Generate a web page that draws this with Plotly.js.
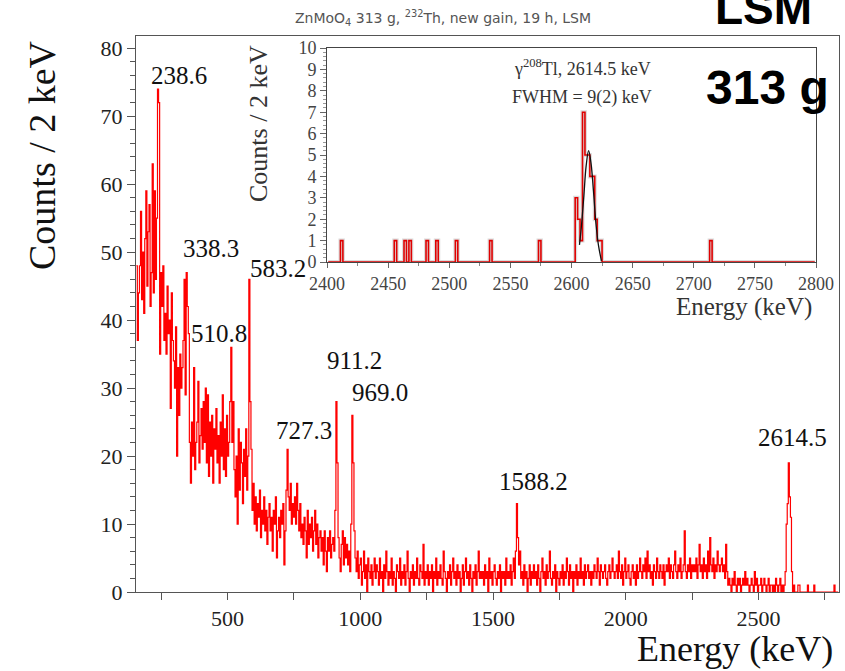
<!DOCTYPE html>
<html><head><meta charset="utf-8">
<script src="https://cdn.plot.ly/plotly-3.0.1.min.js"></script>
<style>html,body{margin:0;padding:0;background:#fff}</style>
</head><body>
<div id="chart" style="width:845px;height:671px"></div>
<script>
// ---- main spectrum: counts per 2 keV, read in 4 keV steps starting at 156 keV ----
const binStart = 156;
const binWidth = 4;
const counts = [
 48,37,44,48,56,43,50,41,52,59,45,53,57,42,47,63,44,59,46,55,74,72,35,47,42,
 48,37,41,35,45,38,40,27,44,37,34,30,39,20,33,26,35,30,33,37,46,29,47,42,38,
 22,16,25,20,33,18,22,25,31,19,23,27,21,28,22,30,19,29,17,25,20,26,16,24,21,
 27,19,23,16,25,20,29,18,24,17,26,20,22,28,36,22,28,18,14,20,10,24,15,22,19,
 13,21,17,24,15,20,46,28,21,12,16,10,14,9,13,11,15,8,12,10,14,9,12,7,11,
 13,9,11,6,12,10,14,5,9,11,8,12,10,13,4,9,15,21,14,12,16,10,13,11,14,
 10,16,12,9,13,8,10,7,11,9,5,12,7,10,8,11,6,9,12,7,10,5,8,9,6,
 8,4,9,6,3,8,6,9,5,7,8,6,12,28,19,8,5,3,7,9,4,8,5,7,4,
 6,3,10,26,19,9,5,3,6,2,4,5,1,3,6,2,4,0,5,3,2,4,1,3,5,
 2,4,3,1,5,2,3,0,4,2,6,3,1,3,2,5,1,3,2,0,4,3,2,5,1,
 3,2,4,1,3,6,2,0,3,2,4,1,3,2,5,2,1,4,3,2,7,1,3,2,4,
 1,3,2,4,0,3,2,5,1,3,2,4,2,1,6,3,2,0,3,2,4,1,3,5,2,
 3,1,4,2,3,0,2,4,1,3,5,2,3,1,4,2,0,3,2,4,1,3,6,2,3,
 2,3,1,4,2,3,0,5,2,3,1,3,4,2,1,3,2,4,0,3,2,3,1,5,2,
 3,2,4,1,3,5,2,6,13,8,4,6,2,3,1,4,2,3,0,2,4,1,3,2,4,
 2,3,1,4,2,0,3,5,2,3,1,4,2,3,6,2,1,3,2,4,0,3,2,1,3,
 2,4,1,3,2,5,3,1,4,2,3,0,3,2,4,1,3,2,5,2,3,1,4,2,3,
 4,2,3,1,3,2,4,3,2,5,3,1,4,3,2,3,4,2,1,3,4,2,3,5,3,
 2,3,4,2,6,3,2,4,1,3,5,2,3,4,2,1,3,4,2,3,1,4,2,3,5,
 3,2,4,3,5,2,6,3,4,2,3,1,4,3,2,5,3,2,4,3,2,4,1,3,4,
 3,5,2,4,3,2,4,6,3,2,4,3,5,2,3,4,9,3,2,4,3,5,2,4,3,
 4,3,5,2,4,7,3,4,2,5,3,4,2,6,3,8,4,3,5,2,4,3,6,4,3,
 4,5,3,4,2,7,3,1,2,1,0,2,1,3,1,0,2,1,2,0,1,2,1,3,1,
 2,1,0,1,2,1,0,3,1,2,0,1,1,2,0,1,2,1,0,1,2,0,1,1,0,
 1,0,2,1,0,1,2,0,1,0,1,3,10,13,19,14,11,3,0,1,0,0,0,1,1,
 0,0,0,0,0,0,0,1,0,0,0,0,0,1,0,0,0,0,0,0,0,0,0,0,0,
 0,0,0,0,0,0,0,1,0,0,0
];

// ---- peak labels ----
const peakLabels = ["238.6","338.3","583.2","510.8","911.2","969.0","727.3","1588.2","2614.5"];
const peakLabelX = [318,439,691,469,977,1075,789,1652,2627];
const peakLabelY = [76,50.6,47.6,38,34.1,29.4,23.8,16.2,22.8];

// ---- inset: 2 keV bins around 2614.5 keV ----
const insetStart = 2401;
const insetEnd = 2799;
const insetWidth = 2;
const insetBinLeft = [2411,2455,2463,2467,2481,2489,2505,2533,2573,2603,2605,2607,2609,2611,2613,2615,2617,2619,2621,2623,2713];
const insetCounts  = [1,1,1,1,1,1,1,1,1,3,2,1,7,5,5,4,4,2,1,1,1];
const fitEnergy = [2606.5,2608,2610,2612,2614,2616,2618,2620,2622,2624.5];
const fitCounts = [0.8,1.6,3.0,4.5,5.2,4.6,3.3,1.8,0.8,0.05];

// build main step arrays
const mx = counts.map((_, i) => binStart + i * binWidth);
mx.push(binStart + counts.length * binWidth);
const my = counts.concat([counts[counts.length - 1]]);

// build inset grid
const ix = [], iy = [];
for (let e = insetStart; e <= insetEnd; e += insetWidth) {
  const k = insetBinLeft.indexOf(e);
  ix.push(e); iy.push(k >= 0 ? insetCounts[k] : 0);
}

const serif = 'Liberation Serif, Times New Roman, serif';
const sans = 'Liberation Sans, Arial, sans-serif';
const L = 136, T = 36, W = 703, H = 556;
function P(px, py) { return {x: (px - L) / W, y: (T + H - py) / H, xref: 'paper', yref: 'paper'}; }

const traces = [
  {x: mx, y: my, type: 'scatter', mode: 'lines', line: {shape: 'hv', color: '#ff0000', width: 1.2}, xaxis: 'x', yaxis: 'y', hoverinfo: 'skip'},
  {x: ix, y: iy, type: 'scatter', mode: 'lines', line: {shape: 'hv', color: '#dcdcdc', width: 4}, xaxis: 'x2', yaxis: 'y2', hoverinfo: 'skip'},
  {x: ix, y: iy, type: 'scatter', mode: 'lines', line: {shape: 'hv', color: '#e00000', width: 1.6}, xaxis: 'x2', yaxis: 'y2'},
  {x: fitEnergy, y: fitCounts, type: 'scatter', mode: 'lines', line: {shape: 'spline', color: '#111', width: 1.3}, xaxis: 'x2', yaxis: 'y2'}
];

const annotations = [];
peakLabels.forEach((t, i) => annotations.push({x: peakLabelX[i], y: peakLabelY[i], xref: 'x', yref: 'y', text: t, showarrow: false, xanchor: 'center', yanchor: 'middle', font: {family: serif, size: 25, color: '#111'}}));
annotations.push(Object.assign(P(42, 155), {text: 'Counts / 2 keV', textangle: -90, showarrow: false, xanchor: 'center', yanchor: 'middle', font: {family: serif, size: 38, color: '#111'}}));
annotations.push(Object.assign(P(735, 649), {text: 'Energy (keV)', showarrow: false, xanchor: 'center', yanchor: 'middle', font: {family: serif, size: 36, color: '#111'}}));
annotations.push(Object.assign(P(763, 8), {text: '<b>LSM</b>', showarrow: false, xanchor: 'center', yanchor: 'middle', font: {family: sans, size: 46, color: '#000'}}));
annotations.push(Object.assign(P(767, 88), {text: '<b>313 g</b>', showarrow: false, xanchor: 'center', yanchor: 'middle', font: {family: sans, size: 48, color: '#000'}}));
annotations.push(Object.assign(P(258, 124), {text: 'Counts / 2 keV', textangle: -90, showarrow: false, xanchor: 'center', yanchor: 'middle', font: {family: serif, size: 26, color: '#333'}}));
annotations.push(Object.assign(P(744, 307), {text: 'Energy (keV)', showarrow: false, xanchor: 'center', yanchor: 'middle', font: {family: serif, size: 25, color: '#333'}}));
annotations.push(Object.assign(P(582, 67), {text: 'γ<sup>208</sup>Tl, 2614.5 keV', showarrow: false, xanchor: 'center', yanchor: 'middle', font: {family: serif, size: 18, color: '#333'}}));
annotations.push(Object.assign(P(582, 97), {text: 'FWHM = 9(2) keV', showarrow: false, xanchor: 'center', yanchor: 'middle', font: {family: serif, size: 18, color: '#333'}}));

const axLine = '#555';
const layout = {
  width: 845, height: 671,
  margin: {l: L, r: 845 - L - W, t: T, b: 671 - T - H, pad: 0},
  paper_bgcolor: '#fff', plot_bgcolor: 'rgba(0,0,0,0)',
  showlegend: false,
  title: {text: 'ZnMoO<sub>4</sub> 313 g, <sup>232</sup>Th, new gain, 19 h, LSM', x: 443 / 845, xanchor: 'center', y: 1 - 18 / 671, yanchor: 'middle', font: {family: 'DejaVu Sans, sans-serif', size: 14, color: '#555'}},
  xaxis: {domain: [0, 1], range: [155, 2803], tick0: 0, dtick: 500, ticks: 'outside', ticklen: 7, tickcolor: axLine, showline: true, linecolor: axLine, mirror: true, showgrid: false, zeroline: false,
    tickfont: {family: serif, size: 22, color: '#222'}, minor: {tick0: 0, dtick: 250, ticks: 'outside', ticklen: 7, tickcolor: axLine, showgrid: false}},
  yaxis: {domain: [0, 1], range: [0, 81.8], tick0: 0, dtick: 10, ticks: 'outside', ticklen: 8, tickcolor: axLine, showline: true, linecolor: axLine, mirror: true, showgrid: false, zeroline: false,
    tickfont: {family: serif, size: 22, color: '#222'}, minor: {tick0: 0, dtick: 2, ticks: 'outside', ticklen: 5, tickcolor: axLine, showgrid: false}},
  xaxis2: {domain: [(327 - L) / W, (816 - L) / W], anchor: 'y2', range: [2400, 2800], tick0: 2400, dtick: 50, ticks: 'outside', ticklen: 5, tickcolor: '#666', showline: true, linecolor: '#444', mirror: true, showgrid: false, zeroline: false,
    tickfont: {family: serif, size: 18, color: '#444'}, minor: {dtick: 25, ticks: 'outside', ticklen: 3, tickcolor: '#888', showgrid: false}},
  yaxis2: {domain: [(T + H - 262) / H, (T + H - 48) / H], anchor: 'x2', range: [0, 10], tick0: 0, dtick: 1, ticks: 'outside', ticklen: 6, tickcolor: '#666', showline: true, linecolor: '#444', mirror: true, showgrid: false, zeroline: false,
    tickfont: {family: serif, size: 18, color: '#444'}, minor: {dtick: 0.2, ticks: 'outside', ticklen: 3, tickcolor: '#999', showgrid: false}},
  annotations: annotations
};

Plotly.newPlot('chart', traces, layout, {staticPlot: true, displayModeBar: false});
</script>
</body></html>
